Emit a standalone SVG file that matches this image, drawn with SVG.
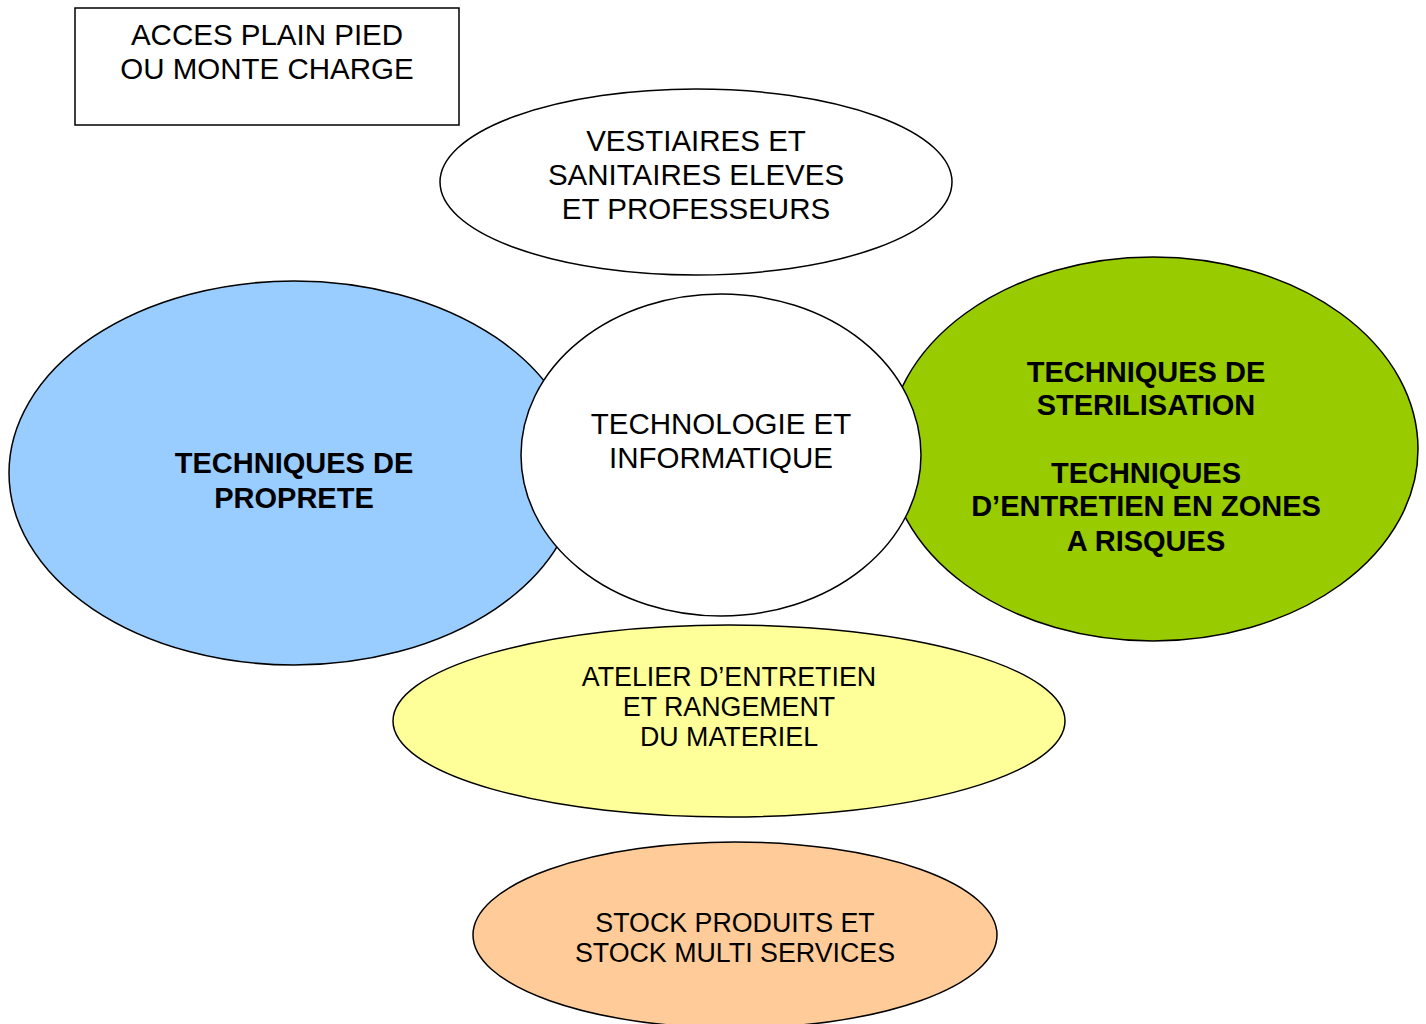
<svg xmlns="http://www.w3.org/2000/svg" width="1426" height="1024" viewBox="0 0 1426 1024">
<style>
.s{stroke:#000;stroke-width:1.5}
.t{font-family:"Liberation Sans",Arial,sans-serif;font-size:29.5px;text-anchor:middle;fill:#000}
.b{font-weight:bold;font-size:29px}
.m{font-size:26.8px}
</style>
<rect width="1426" height="1024" fill="#fff"/>
<g id="acces">
<rect class="s" x="75" y="8" width="384" height="117" fill="#fff"/>
<text class="t" x="267" y="45">ACCES PLAIN PIED</text>
<text class="t" x="267" y="79">OU MONTE CHARGE</text>
</g>
<g id="vestiaires">
<ellipse class="s" cx="696" cy="182" rx="256" ry="93" fill="#fff"/>
<text class="t" x="696" y="151">VESTIAIRES ET</text>
<text class="t" x="696" y="185">SANITAIRES ELEVES</text>
<text class="t" x="696" y="219">ET PROFESSEURS</text>
</g>
<g id="proprete">
<ellipse class="s" cx="294" cy="473" rx="285" ry="192" fill="#99CCFF"/>
<text class="t b" x="294" y="473">TECHNIQUES DE</text>
<text class="t b" x="294" y="508">PROPRETE</text>
</g>
<g id="sterilisation">
<ellipse class="s" cx="1153" cy="449" rx="265" ry="192" fill="#99CC00"/>
<text class="t b" x="1146" y="382">TECHNIQUES DE</text>
<text class="t b" x="1146" y="415">STERILISATION</text>
<text class="t b" x="1146" y="483">TECHNIQUES</text>
<text class="t b" x="1146" y="516">D’ENTRETIEN EN ZONES</text>
<text class="t b" x="1146" y="551">A RISQUES</text>
</g>
<g id="technologie">
<ellipse class="s" cx="721" cy="455" rx="200" ry="161" fill="#fff"/>
<text class="t" x="721" y="434">TECHNOLOGIE ET</text>
<text class="t" x="721" y="468">INFORMATIQUE</text>
</g>
<g id="atelier">
<ellipse class="s" cx="729" cy="721" rx="336" ry="96" fill="#FFFF99"/>
<text class="t m" x="729" y="686">ATELIER D’ENTRETIEN</text>
<text class="t m" x="729" y="716">ET RANGEMENT</text>
<text class="t m" x="729" y="746">DU MATERIEL</text>
</g>
<g id="stock">
<ellipse class="s" cx="735" cy="935" rx="262" ry="93" fill="#FFCC99"/>
<text class="t m" x="735" y="932">STOCK PRODUITS ET</text>
<text class="t m" x="735" y="962">STOCK MULTI SERVICES</text>
</g>
<g id="connectors"></g>
</svg>
